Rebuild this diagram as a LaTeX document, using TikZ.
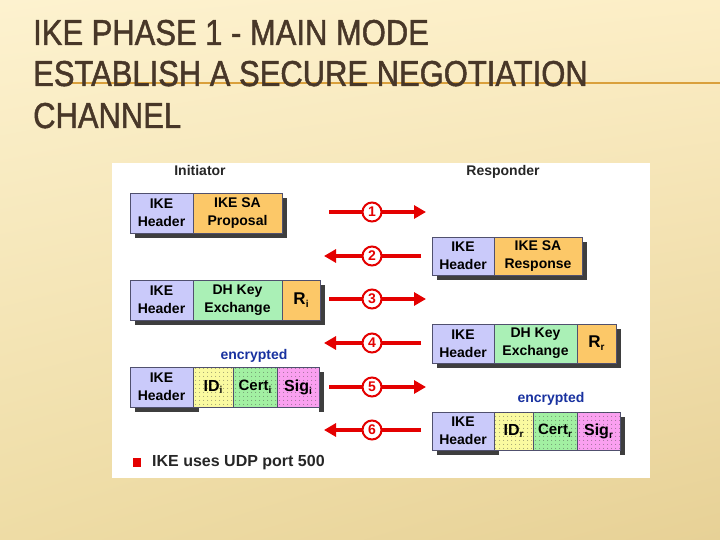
\documentclass[tikz,border=0pt]{standalone}
\usepackage{fontspec}
\setmainfont{Liberation Sans}
\newfontfamily\titlefont[FakeStretch=0.86,FakeBold=1.3]{Liberation Sans}
\usetikzlibrary{arrows.meta,patterns.meta,shadings}
\definecolor{bgtop}{RGB}{253,242,207}
\definecolor{bgtopr}{RGB}{252,238,198}
\definecolor{bgbotl}{RGB}{238,220,165}
\definecolor{bgbot}{RGB}{231,209,150}
\definecolor{titlec}{RGB}{72,55,40}
\definecolor{rulec}{RGB}{218,160,60}
\definecolor{hdrc}{RGB}{202,202,250}
\definecolor{orc}{RGB}{252,200,104}
\definecolor{dhc}{RGB}{170,240,182}
\definecolor{idc}{RGB}{250,250,160}
\definecolor{certc}{RGB}{162,240,162}
\definecolor{sigc}{RGB}{250,160,240}
\definecolor{cellborder}{RGB}{80,80,110}
\definecolor{shadowc}{RGB}{62,62,62}
\definecolor{arrred}{RGB}{228,0,0}
\definecolor{encblue}{RGB}{25,50,160}
\newcommand{\subs}[1]{\raisebox{-0.35ex}{\fontsize{10}{10}\selectfont #1}}
\tikzset{
  cellbox/.style={draw=cellborder, line width=0.8pt, inner sep=0pt, align=center,
    font=\fontsize{14}{18}\selectfont\bfseries},
  dotted cell/.style={cellbox, postaction={pattern={Dots[distance=4pt,radius=0.45pt]}, pattern color=black!75}},
  redarrow/.style={draw=arrred, line width=4pt, -{Triangle[length=12pt,width=13pt]}},
  numcirc/.style={circle, draw=arrred, line width=2pt, fill=white, minimum size=19pt, inner sep=0pt,
    text=arrred, font=\fontsize{14}{14}\selectfont\bfseries},
  rolelabel/.style={anchor=base, inner sep=0pt, font=\fontsize{14}{14}\selectfont\bfseries, text=black!85},
  enclabel/.style={font=\fontsize{14}{14}\selectfont\bfseries, text=encblue},
  titletext/.style={anchor=base west, inner sep=0pt, text=titlec, font=\titlefont\fontsize{36}{36}\selectfont}
}
\begin{document}
\begin{tikzpicture}[x=1pt,y=-1pt]
\useasboundingbox (0,0) rectangle (720,540);
% background
\shade[upper left=bgtop, upper right=bgtopr, lower left=bgbotl, lower right=bgbot] (0,0) rectangle (720,540);
\draw[rulec, line width=2pt] (67,83) -- (720,83);
\node[titletext] (t1) at (33,45) {IKE PHASE 1 - MAIN MODE};
\node[titletext] (t2) at (33,86) {ESTABLISH A SECURE NEGOTIATION};
\node[titletext] (t3) at (33,128) {CHANNEL};
% panel
\fill[white] (112,163) rectangle (650,478);
\node[rolelabel] (init) at (200,176) {Initiator};
\node[rolelabel] (resp) at (503,176) {Responder};
% shadows
\fill[shadowc] (135,198) rectangle (287,238);
\fill[shadowc] (437,242) rectangle (587,280);
\fill[shadowc] (135,285) rectangle (325,325);
\fill[shadowc] (437,329) rectangle (621,368);
\fill[shadowc] (319,372) rectangle (324,412);
\fill[shadowc] (135,407) rectangle (199,412);
\fill[shadowc] (620,417) rectangle (625,455);
\fill[shadowc] (437,450) rectangle (499,455);
% row 1
\node[cellbox, fill=hdrc, minimum width=63pt, minimum height=40pt] (h1) at (161.5,213) {IKE\\Header};
\node[cellbox, fill=orc, minimum width=89pt, minimum height=40pt] (p1) at (237.5,213) {IKE SA\\Proposal};
% row 2
\node[cellbox, fill=hdrc, minimum width=62pt, minimum height=38pt] (h2) at (463,256) {IKE\\Header};
\node[cellbox, fill=orc, minimum width=88pt, minimum height=38pt] (p2) at (538,256) {IKE SA\\Response};
% row 3
\node[cellbox, fill=hdrc, minimum width=63pt, minimum height=40pt] (h3) at (161.5,300) {IKE\\Header};
\node[cellbox, fill=dhc, minimum width=89pt, minimum height=40pt] (d3) at (237.5,300) {DH Key\\Exchange};
\node[cellbox, fill=orc, minimum width=38pt, minimum height=40pt, font=\fontsize{17}{17}\selectfont\bfseries] (r3) at (301,300) {R\subs{i}};
% row 4
\node[cellbox, fill=hdrc, minimum width=62pt, minimum height=39pt] (h4) at (463,343.5) {IKE\\Header};
\node[cellbox, fill=dhc, minimum width=83pt, minimum height=39pt] (d4) at (535.5,343.5) {DH Key\\Exchange};
\node[cellbox, fill=orc, minimum width=39pt, minimum height=39pt, font=\fontsize{17}{17}\selectfont\bfseries] (r4) at (596.5,343.5) {R\subs{r}};
% row 5
\node[enclabel] (enc1) at (254,356) {encrypted};
\node[cellbox, fill=hdrc, minimum width=63pt, minimum height=40pt] (h5) at (161.5,387) {IKE\\Header};
\node[dotted cell, fill=idc, minimum width=40pt, minimum height=40pt, font=\fontsize{16}{16}\selectfont\bfseries] (i5) at (213,387) {ID\subs{i}};
\node[dotted cell, fill=certc, minimum width=44pt, minimum height=40pt, font=\fontsize{15}{15}\selectfont\bfseries] (c5) at (255,387) {Cert\subs{i}};
\node[dotted cell, fill=sigc, minimum width=42pt, minimum height=40pt, font=\fontsize{16}{16}\selectfont\bfseries] (g5) at (298,387) {Sig\subs{i}};
% row 6
\node[enclabel] (enc2) at (551,399) {encrypted};
\node[cellbox, fill=hdrc, minimum width=62pt, minimum height=38pt] (h6) at (463,431) {IKE\\Header};
\node[dotted cell, fill=idc, minimum width=39pt, minimum height=38pt, font=\fontsize{16}{16}\selectfont\bfseries] (i6) at (513.5,431) {ID\subs{r}};
\node[dotted cell, fill=certc, minimum width=44pt, minimum height=38pt, font=\fontsize{15}{15}\selectfont\bfseries] (c6) at (555,431) {Cert\subs{r}};
\node[dotted cell, fill=sigc, minimum width=43pt, minimum height=38pt, font=\fontsize{16}{16}\selectfont\bfseries] (g6) at (598.5,431) {Sig\subs{r}};
% arrows
\coordinate (a1s) at (329,212); \coordinate (a1e) at (426,212);
\coordinate (a2s) at (421,256); \coordinate (a2e) at (324,256);
\coordinate (a3s) at (329,299); \coordinate (a3e) at (426,299);
\coordinate (a4s) at (421,343); \coordinate (a4e) at (324,343);
\coordinate (a5s) at (329,387); \coordinate (a5e) at (426,387);
\coordinate (a6s) at (421,430); \coordinate (a6e) at (324,430);
\draw[redarrow] (a1s) -- (a1e);
\draw[redarrow] (a2s) -- (a2e);
\draw[redarrow] (a3s) -- (a3e);
\draw[redarrow] (a4s) -- (a4e);
\draw[redarrow] (a5s) -- (a5e);
\draw[redarrow] (a6s) -- (a6e);
\node[numcirc] (n1) at (372,212) {1};
\node[numcirc] (n2) at (372,256) {2};
\node[numcirc] (n3) at (372,299) {3};
\node[numcirc] (n4) at (372,343) {4};
\node[numcirc] (n5) at (372,387) {5};
\node[numcirc] (n6) at (372,430) {6};
% bullet
\fill[arrred] (133,458) rectangle (141,467);
\node[anchor=west, inner sep=0pt, font=\fontsize{16}{16}\selectfont\bfseries, text=black!85] (note) at (152,462.5) {IKE uses UDP port 500};
\end{tikzpicture}
\end{document}
